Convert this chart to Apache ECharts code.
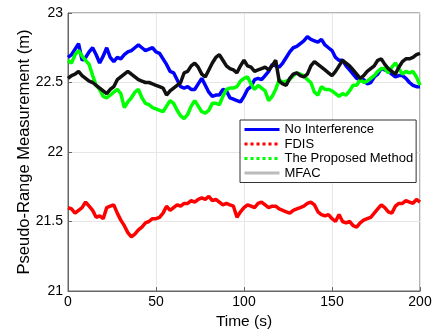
<!DOCTYPE html>
<html><head><meta charset="utf-8">
<script src="https://cdn.jsdelivr.net/npm/echarts@6/dist/echarts.min.js"></script>
<style>html,body{margin:0;padding:0;background:#fff}#c{width:438px;height:332px}</style>
</head><body><div id="c"></div>
<script>
const time = [0,2,4,6,8,10,12,14,16,18,20,22,24,26,28,30,32,34,36,38,40,42,44,46,48,50,52,54,56,58,60,62,64,66,68,70,72,74,76,78,80,82,84,86,88,90,92,94,96,98,100,102,104,106,108,110,112,114,116,118,120,122,124,126,128,130,132,134,136,138,140,142,144,146,148,150,152,154,156,158,160,162,164,166,168,170,172,174,176,178,180,182,184,186,188,190,192,194,196,198,200];
const noInterference = [22.68,22.70,22.74,22.78,22.66,22.68,22.72,22.75,22.70,22.64,22.69,22.75,22.68,22.65,22.68,22.67,22.70,22.72,22.73,22.75,22.77,22.75,22.73,22.74,22.75,22.72,22.71,22.67,22.63,22.58,22.57,22.52,22.47,22.46,22.47,22.45,22.45,22.49,22.53,22.48,22.43,22.40,22.41,22.41,22.45,22.44,22.39,22.38,22.37,22.36,22.40,22.45,22.47,22.52,22.53,22.52,22.55,22.58,22.63,22.62,22.61,22.64,22.68,22.72,22.75,22.76,22.78,22.80,22.83,22.81,22.80,22.79,22.81,22.77,22.75,22.73,22.68,22.66,22.66,22.62,22.59,22.56,22.53,22.52,22.52,22.49,22.50,22.54,22.56,22.60,22.59,22.58,22.56,22.54,22.55,22.55,22.53,22.50,22.48,22.47,22.47];
const fdis = [21.60,21.59,21.56,21.58,21.60,21.64,21.61,21.58,21.53,21.54,21.52,21.60,21.61,21.62,21.56,21.51,21.47,21.42,21.39,21.41,21.44,21.46,21.49,21.50,21.52,21.52,21.53,21.56,21.61,21.58,21.60,21.62,21.61,21.63,21.63,21.65,21.64,21.66,21.67,21.66,21.68,21.65,21.66,21.64,21.62,21.63,21.62,21.61,21.53,21.57,21.60,21.62,21.61,21.60,21.63,21.64,21.62,21.60,21.61,21.61,21.59,21.58,21.57,21.56,21.58,21.59,21.60,21.61,21.63,21.64,21.62,21.57,21.55,21.54,21.55,21.52,21.50,21.55,21.50,21.49,21.50,21.47,21.46,21.49,21.51,21.52,21.53,21.56,21.59,21.62,21.60,21.57,21.56,21.61,21.63,21.63,21.65,21.64,21.63,21.66,21.64];
const proposed = [22.66,22.64,22.70,22.73,22.69,22.66,22.63,22.55,22.48,22.45,22.40,22.39,22.41,22.43,22.45,22.42,22.32,22.36,22.39,22.43,22.45,22.39,22.35,22.34,22.32,22.31,22.30,22.29,22.33,22.37,22.35,22.30,22.26,22.24,22.27,22.33,22.37,22.33,22.29,22.28,22.30,22.35,22.35,22.34,22.40,22.45,22.46,22.46,22.47,22.51,22.53,22.54,22.49,22.45,22.48,22.46,22.44,22.37,22.40,22.45,22.52,22.50,22.51,22.52,22.55,22.57,22.56,22.55,22.52,22.50,22.43,22.41,22.47,22.45,22.45,22.44,22.42,22.40,22.42,22.41,22.44,22.48,22.48,22.52,22.50,22.51,22.53,22.55,22.58,22.60,22.60,22.57,22.61,22.64,22.60,22.56,22.58,22.57,22.58,22.54,22.48];
const mfac = [22.53,22.55,22.56,22.58,22.55,22.53,22.51,22.50,22.48,22.46,22.44,22.42,22.45,22.47,22.52,22.54,22.56,22.58,22.56,22.54,22.52,22.51,22.50,22.50,22.49,22.48,22.47,22.46,22.41,22.44,22.46,22.48,22.50,22.57,22.58,22.62,22.64,22.61,22.56,22.54,22.59,22.64,22.68,22.70,22.66,22.62,22.60,22.59,22.57,22.62,22.66,22.62,22.61,22.58,22.59,22.60,22.61,22.59,22.62,22.66,22.51,22.49,22.48,22.53,22.56,22.57,22.55,22.54,22.56,22.62,22.65,22.63,22.61,22.59,22.57,22.55,22.58,22.62,22.66,22.64,22.62,22.59,22.56,22.53,22.55,22.58,22.60,22.62,22.66,22.67,22.63,22.60,22.58,22.56,22.61,22.65,22.67,22.67,22.68,22.70,22.71];
const seriesNames = ['No Interference','FDIS','The Proposed Method','MFAC'];
const xTicks = [0,50,100,150,200];
const yTicks = [21,21.5,22,22.5,23];

const pair = arr => time.map((t,i)=>[t,arr[i]]);
const FONT = 'Liberation Sans, Arial, sans-serif';
const chart = echarts.init(document.getElementById('c'), null, {renderer:'canvas'});
const mk = (name, data, color, z) => ({
  name, type:'line', data: pair(data), showSymbol:false, symbol:'none', z,
  lineStyle:{color, width:3.5}, itemStyle:{color}, animation:false
});
chart.setOption({
  animation:false,
  textStyle:{fontFamily:FONT},
  grid:{left:68, right:18, top:13, bottom:41, show:true, borderColor:'#666', borderWidth:1,
    containLabel:false, outerBoundsMode:'none'},
  xAxis:{type:'value', min:xTicks[0], max:xTicks[xTicks.length-1], interval:50,
    name:'Time (s)', nameLocation:'middle', nameGap:23, nameMoveOverlap:false,
    nameTextStyle:{color:'#000', fontSize:15.5, fontFamily:FONT},
    axisLine:{lineStyle:{color:'#666'}},
    axisTick:{inside:true, length:4, lineStyle:{color:'#666'}},
    axisLabel:{color:'#000', fontSize:14, fontFamily:FONT, margin:4},
    splitLine:{show:true, lineStyle:{color:'#e6e6e6'}}},
  yAxis:{type:'value', min:yTicks[0], max:yTicks[yTicks.length-1], interval:0.5,
    name:'Pseudo-Range Measurement (m)', nameLocation:'middle', nameGap:35, nameMoveOverlap:false,
    nameTextStyle:{color:'#000', fontSize:16.5, fontFamily:FONT},
    axisLine:{lineStyle:{color:'#666'}},
    axisTick:{inside:true, length:4, lineStyle:{color:'#666'}},
    axisLabel:{color:'#000', fontSize:14, fontFamily:FONT, margin:5},
    splitLine:{show:true, lineStyle:{color:'#e6e6e6'}}},
  legend:{orient:'vertical', left:240, top:120,
    backgroundColor:'#fff', borderColor:'#333', borderWidth:1, borderRadius:0,
    padding:[3,3,3,3], itemGap:1.5, itemWidth:35, itemHeight:13,
    itemStyle:{opacity:0},
    textStyle:{color:'#000', fontSize:13, fontFamily:FONT},
    data:[
      {name:seriesNames[0], lineStyle:{width:3}},
      {name:seriesNames[1], lineStyle:{type:'dotted', width:3}},
      {name:seriesNames[2], lineStyle:{type:'dotted', width:3}},
      {name:seriesNames[3], lineStyle:{color:'#bbb', width:3}}
    ]},
  series:[
    mk(seriesNames[0], noInterference, '#0000ff', 2),
    mk(seriesNames[1], fdis, '#ff0000', 3),
    mk(seriesNames[2], proposed, '#00ff00', 4),
    mk(seriesNames[3], mfac, '#111111', 5)
  ]
});
</script></body></html>
